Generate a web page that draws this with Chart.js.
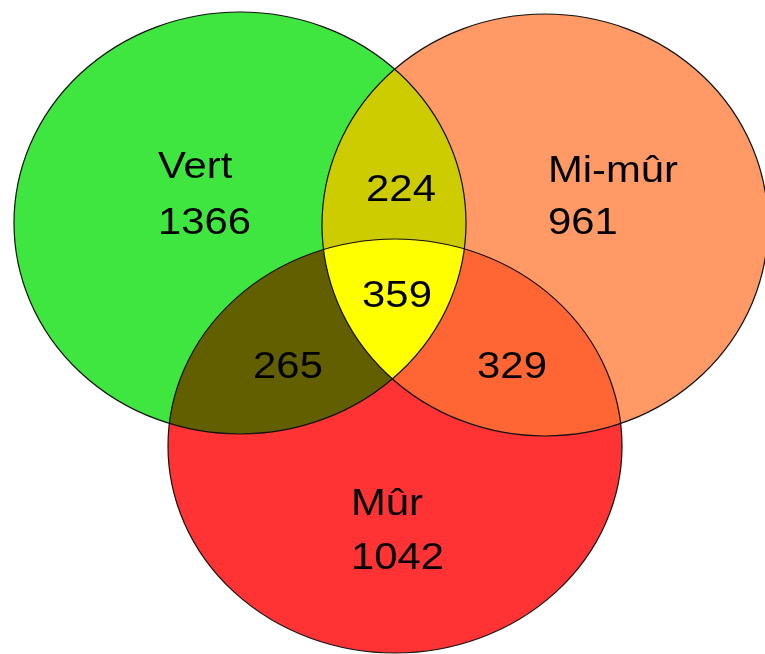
<!DOCTYPE html>
<html>
<head>
<meta charset="utf-8">
<script src="https://cdn.jsdelivr.net/npm/chart.js@4"></script>
<style>
  html, body { margin: 0; padding: 0; background: #fff; }
  #wrap { width: 765px; height: 654px; }
</style>
</head>
<body>
<div id="wrap"><canvas id="venn"></canvas></div>
<script>
// region counts of the three sets
const setNames = ['Vert', 'Mi-mûr', 'Mûr'];
const setOnly = [1366, 961, 1042];
const pairNames = ['Vert & Mi-mûr', 'Vert & Mûr', 'Mi-mûr & Mûr'];
const pairOnly = [224, 265, 329];
const allThree = 359;

// layout (chart units, y down) and colours
const circles = [
  { cx: 240, cy: 223, rx: 226, ry: 211, color: '#40e640' },
  { cx: 545, cy: 225, rx: 223, ry: 211, color: '#ff9966' },
  { cx: 395, cy: 446, rx: 227, ry: 207, color: '#ff3333' }
];
const pairs = [[0, 1], [0, 2], [1, 2]];
const pairColors = ['#cccc00', '#625f00', '#ff6633'];
const tripleColor = '#ffff00';
const setLabelPos = [[158, 178, 234], [548, 182, 234], [351, 515, 569]];
const pairLabelPos = [[401, 201], [288, 378], [512, 378]];
const tripleLabelPos = [397, 307];

const FONT = '37px "Liberation Sans", Arial, Helvetica, sans-serif';
const STRETCH = 1.13; // text in the original is a little wide

function ellipsePath(ctx, chart, c) {
  const xs = chart.scales.x, ys = chart.scales.y;
  const px = xs.getPixelForValue(c.cx), py = ys.getPixelForValue(c.cy);
  const rx = Math.abs(xs.getPixelForValue(c.cx + c.rx) - px);
  const ry = Math.abs(ys.getPixelForValue(c.cy + c.ry) - py);
  ctx.beginPath();
  ctx.ellipse(px, py, rx, ry, 0, 0, Math.PI * 2);
}

function label(ctx, text, x, y, align) {
  ctx.save();
  ctx.translate(x, y);
  ctx.scale(STRETCH, 1);
  ctx.textAlign = align;
  ctx.fillText(text, 0, 0);
  ctx.restore();
}

const vennPlugin = {
  id: 'venn',
  beforeDatasetsDraw(chart) {
    const ctx = chart.ctx;
    ctx.save();
    circles.forEach(c => {
      ellipsePath(ctx, chart, c);
      ctx.fillStyle = c.color;
      ctx.fill();
    });
    pairs.forEach(([a, b], i) => {
      ctx.save();
      ellipsePath(ctx, chart, circles[a]);
      ctx.clip();
      ellipsePath(ctx, chart, circles[b]);
      ctx.fillStyle = pairColors[i];
      ctx.fill();
      ctx.restore();
    });
    ctx.save();
    ellipsePath(ctx, chart, circles[0]); ctx.clip();
    ellipsePath(ctx, chart, circles[1]); ctx.clip();
    ellipsePath(ctx, chart, circles[2]);
    ctx.fillStyle = tripleColor;
    ctx.fill();
    ctx.restore();
    ctx.lineWidth = 1.2;
    ctx.strokeStyle = '#111';
    circles.forEach(c => { ellipsePath(ctx, chart, c); ctx.stroke(); });
    ctx.restore();
  },
  afterDatasetsDraw(chart) {
    const ctx = chart.ctx;
    const xs = chart.scales.x, ys = chart.scales.y;
    ctx.save();
    ctx.font = FONT;
    ctx.fillStyle = '#000';
    ctx.textBaseline = 'alphabetic';
    setNames.forEach((name, i) => {
      const [x, y1, y2] = setLabelPos[i];
      label(ctx, name, xs.getPixelForValue(x), ys.getPixelForValue(y1), 'left');
      label(ctx, String(setOnly[i]), xs.getPixelForValue(x), ys.getPixelForValue(y2), 'left');
    });
    pairOnly.forEach((v, i) => {
      const [x, y] = pairLabelPos[i];
      label(ctx, String(v), xs.getPixelForValue(x), ys.getPixelForValue(y), 'center');
    });
    label(ctx, String(allThree), xs.getPixelForValue(tripleLabelPos[0]), ys.getPixelForValue(tripleLabelPos[1]), 'center');
    ctx.restore();
  }
};

new Chart(document.getElementById('venn').getContext('2d'), {
  type: 'scatter',
  data: { datasets: [{ label: 'regions', data: [], pointRadius: 0 }] },
  options: {
    responsive: true,
    maintainAspectRatio: false,
    animation: false,
    layout: { padding: 0 },
    plugins: { legend: { display: false }, tooltip: { enabled: false } },
    scales: {
      x: { type: 'linear', min: 0, max: 765, display: false },
      y: { type: 'linear', min: 0, max: 654, reverse: true, display: false }
    }
  },
  plugins: [vennPlugin]
});
</script>
</body>
</html>
